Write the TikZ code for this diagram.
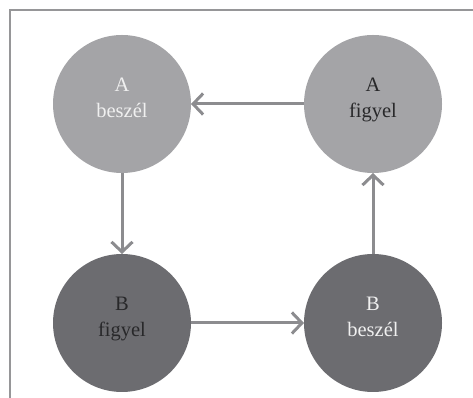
\documentclass[tikz,border=0pt]{standalone}
\usepackage{tikz}
\usetikzlibrary{arrows.meta,positioning}
\usepackage{fontspec}
\setmainfont{Liberation Serif}

\definecolor{lightstate}{RGB}{164,164,167}
\definecolor{darkstate}{RGB}{108,108,112}
\definecolor{arrowgray}{RGB}{140,140,143}
\definecolor{framegray}{RGB}{150,150,152}
\definecolor{textdark}{RGB}{40,40,42}
\definecolor{textlight}{RGB}{240,240,240}

\begin{document}
\begin{tikzpicture}[x=1pt,y=1pt,
	state/.style={circle, minimum size=138pt, inner sep=0pt, outer sep=0pt, align=center,
		font=\fontsize{20.5}{26}\selectfont, text depth=13pt},
	lightstate/.style={state, fill=lightstate},
	darkstate/.style={state, fill=darkstate},
	turn/.style={line width=3pt, draw=arrowgray, -{Straight Barb[length=10pt,width=21pt,line width=3pt]}}]
		\useasboundingbox (0,0) rectangle (473,398);

		% frame
		\coordinate (ftr) at (473,388);
		\coordinate (ftl) at (10,388);
		\coordinate (fbl) at (10,0);
		\draw[framegray, line width=1.5pt] (ftr) -- (ftl) -- (fbl);

		\node[lightstate,text=textlight] (Abeszel) at (122,294) {A\\beszél};
		\node[lightstate,text=textdark] (Afigyel) at (373,294) {A\\figyel};
		\node[darkstate,text=textdark] (Bfigyel) at (122,75) {B\\figyel};
		\node[darkstate,text=textlight] (Bbeszel) at (373,75) {B\\beszél};

		\draw[turn] (Afigyel) -- (Abeszel);
		\draw[turn] (Abeszel) -- (Bfigyel);
		\draw[turn] (Bfigyel) -- (Bbeszel);
		\draw[turn] (Bbeszel) -- (Afigyel);

	\end{tikzpicture}
\end{document}
